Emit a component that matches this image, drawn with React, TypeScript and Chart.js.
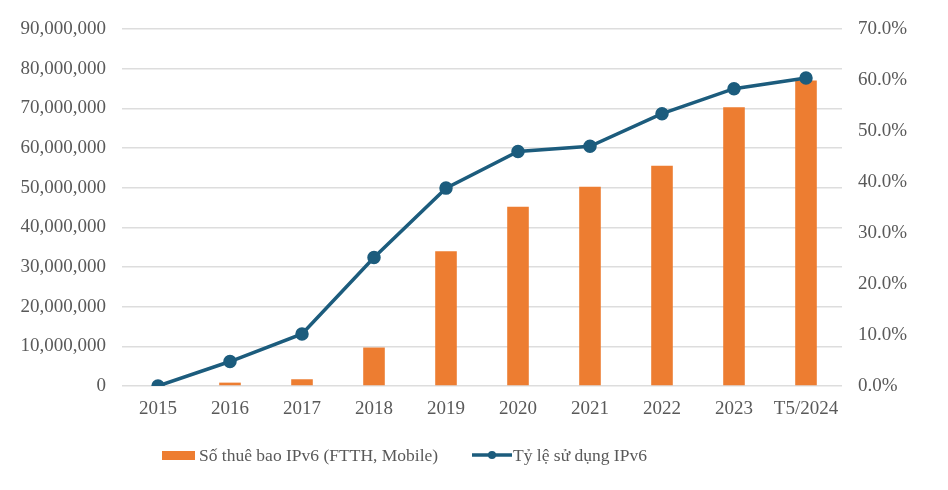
import React, { useEffect, useRef } from "react";
import { Chart, registerables } from "chart.js";

Chart.register(...registerables);

const categories = ["2015", "2016", "2017", "2018", "2019", "2020", "2021", "2022", "2023", "T5/2024"];
const subscribers = [0, 850000, 1700000, 9700000, 34000000, 45200000, 50200000, 55500000, 70300000, 77000000];
const usageRate = [0, 4.8, 10.2, 25.2, 38.8, 46.0, 47.0, 53.4, 58.3, 60.4];
const leftTicks = [0, 10000000, 20000000, 30000000, 40000000, 50000000, 60000000, 70000000, 80000000, 90000000];
const rightTicks = [0, 10, 20, 30, 40, 50, 60, 70];
const seriesNames = ["Số thuê bao IPv6 (FTTH, Mobile)", "Tỷ lệ sử dụng IPv6"];

const ORANGE = "#ED7D31";
const BLUE = "#1C5C7D";
const TEXT = "#595959";
const FONT = "'Liberation Serif', 'Times New Roman', serif";

const legendPlugin = {
  id: "customLegend",
  afterDraw(chart: any) {
    const ctx = chart.ctx;
    ctx.save();
    const y = 455;
    ctx.font = `17.5px ${FONT}`;
    ctx.textBaseline = "middle";
    // bar item
    ctx.fillStyle = ORANGE;
    ctx.fillRect(162, y - 4, 33, 9);
    ctx.fillStyle = TEXT;
    ctx.fillText(seriesNames[0], 199, y + 1);
    // line item
    ctx.strokeStyle = BLUE;
    ctx.lineWidth = 3.5;
    ctx.beginPath();
    ctx.moveTo(472, y);
    ctx.lineTo(512, y);
    ctx.stroke();
    ctx.fillStyle = BLUE;
    ctx.beginPath();
    ctx.arc(492, y, 4, 0, Math.PI * 2);
    ctx.fill();
    ctx.fillStyle = TEXT;
    ctx.fillText(seriesNames[1], 513, y + 1);
    ctx.restore();
  },
};

export default function App() {
  const ref = useRef<HTMLCanvasElement | null>(null);

  useEffect(() => {
    document.body.style.margin = "0";
    const canvas = ref.current;
    if (!canvas) return;
    const chart = new Chart(canvas, {
      type: "bar",
      data: {
        labels: categories,
        datasets: [
          {
            type: "line",
            label: seriesNames[1],
            data: usageRate,
            yAxisID: "y1",
            borderColor: BLUE,
            backgroundColor: BLUE,
            borderWidth: 3.5,
            pointRadius: 5,
            pointBackgroundColor: BLUE,
            pointBorderColor: BLUE,
            tension: 0,
            order: 0,
          } as any,
          {
            type: "bar",
            label: seriesNames[0],
            data: subscribers,
            yAxisID: "y",
            backgroundColor: ORANGE,
            borderWidth: 0,
            barPercentage: 0.6,
            categoryPercentage: 0.5,
            order: 1,
          },
        ],
      },
      options: {
        responsive: false,
        animation: false,
        layout: { padding: { top: 29, bottom: 0, left: 0, right: 0 } },
        plugins: {
          legend: { display: false },
          tooltip: { enabled: false },
        },
        scales: {
          x: {
            grid: { display: false, drawTicks: false },
            border: { display: false },
            ticks: {
              color: TEXT,
              font: { family: FONT, size: 19 },
              padding: 12,
              maxRotation: 0,
              autoSkip: false,
            },
            afterFit(scale: any) {
              scale.height = 104;
            },
          },
          y: {
            position: "left",
            min: 0,
            max: 90000000,
            afterBuildTicks(scale: any) {
              scale.ticks = leftTicks.map((v) => ({ value: v }));
            },
            grid: { color: "#DDDDDD", lineWidth: 1.5, drawTicks: false },
            border: { display: false },
            ticks: {
              color: TEXT,
              font: { family: FONT, size: 19 },
              padding: 16,
              callback: (v: any) => Number(v).toLocaleString("en-US"),
            },
            afterFit(scale: any) {
              scale.width = 122;
            },
          },
          y1: {
            position: "right",
            min: 0,
            max: 70,
            afterBuildTicks(scale: any) {
              scale.ticks = rightTicks.map((v) => ({ value: v }));
            },
            grid: { display: false, drawTicks: false },
            border: { display: false },
            ticks: {
              color: TEXT,
              font: { family: FONT, size: 19 },
              padding: 16,
              callback: (v: any) => Number(v).toFixed(1) + "%",
            },
            afterFit(scale: any) {
              scale.width = 106;
            },
          },
        },
      },
      plugins: [legendPlugin],
    });
    return () => chart.destroy();
  }, []);

  return (
    <div style={{ position: "absolute", left: 0, top: 0, width: 948, height: 490, background: "#fff" }}>
      <canvas ref={ref} width={948} height={490} style={{ display: "block" }} />
    </div>
  );
}
